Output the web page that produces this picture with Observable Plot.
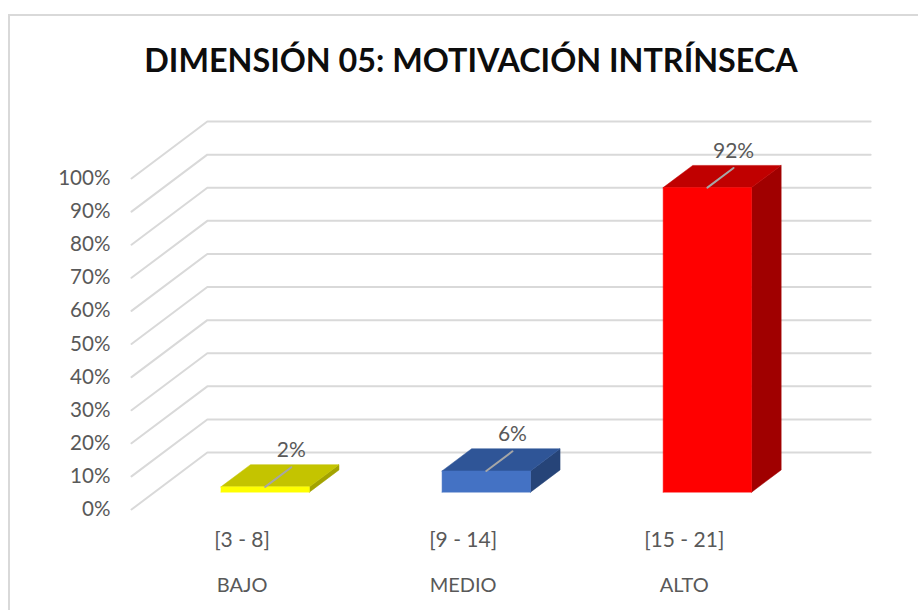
<!DOCTYPE html>
<html lang="es">
<head>
<meta charset="utf-8">
<script src="https://cdn.jsdelivr.net/npm/d3@7"></script>
<script src="https://cdn.jsdelivr.net/npm/@observablehq/plot@0.6"></script>
<style>
  html, body { margin: 0; padding: 0; background: #fff; overflow: hidden; }
  body { position: relative; width: 918px; height: 610px; }
  #frame { position: absolute; left: 8px; top: 14px; right: 0; bottom: 0; border-left: 2.5px solid #d9d9d9; border-top: 2.5px solid #d9d9d9; box-sizing: border-box; }
  #title { position: relative; height: 100px; padding-left: 24px; box-sizing: border-box; text-align: center; font: 700 32.3px Lato, sans-serif; line-height: 120px; color: #0d0d0d; white-space: nowrap; }
  #chart { position: relative; }
  svg { display: block; }
</style>
</head>
<body>
<div id="frame"></div>
<div id="title">DIMENSIÓN 05: MOTIVACIÓN INTRÍNSECA</div>
<div id="chart"></div>
<script>
const categories = ["BAJO", "MEDIO", "ALTO"];
const ranges = ["[3 - 8]", "[9 - 14]", "[15 - 21]"];
const values = [1.6, 6.4, 92];
const labels = ["2%", "6%", "92%"];
const yTicks = [0, 10, 20, 30, 40, 50, 60, 70, 80, 90, 100];
const faceColors = ["#ffff00", "#4472c4", "#ff0000"];
const topColors = ["#c4c400", "#2f5597", "#c00000"];
const sideColors = ["#a3a300", "#264478", "#a00000"];

// Oblique projection of the 3D chart box: depth 0 is the front plane, 1 the back wall.
const depthX = 0.343;   // category units per full depth
const depthY = 17.2;    // percentage points per full depth
const barWidth = 0.4;
const barFront = 0.305, barBack = 0.695, leaderEnd = 0.65;
const pt = (cat, val, depth, extra) => ({x: cat + depth * depthX, y: val + depth * depthY, ...extra});

const grid = yTicks.flatMap((v) => [
  pt(0, v, 0, {id: v}),
  pt(0, v, 1, {id: v}),
  pt(categories.length, v, 1, {id: v})
]);

const polys = categories.flatMap((c, i) => {
  const x0 = i + 0.5 - barWidth / 2, x1 = i + 0.5 + barWidth / 2, v = values[i];
  const poly = (name, color, corners) => [...corners, corners[0]].map(([a, b, d]) => pt(a, b, d, {id: c + name, color}));
  return [
    ...poly("-side", sideColors[i], [[x1, 0, barFront], [x1, 0, barBack], [x1, v, barBack], [x1, v, barFront]]),
    ...poly("-top", topColors[i], [[x0, v, barFront], [x1, v, barFront], [x1, v, barBack], [x0, v, barBack]]),
    ...poly("-face", faceColors[i], [[x0, 0, barFront], [x1, 0, barFront], [x1, v, barFront], [x0, v, barFront]])
  ];
});

const leaders = categories.flatMap((c, i) => [
  pt(i + 0.5, values[i], barFront, {id: c}),
  pt(i + 0.5, values[i], leaderEnd, {id: c})
]);
const valueLabels = categories.map((c, i) => pt(i + 0.5, values[i], leaderEnd, {text: labels[i]}));

const textColor = "#595959";
const chart = Plot.plot({
  width: 918,
  height: 510,
  marginTop: 78,
  marginBottom: 101,
  marginLeft: 131,
  marginRight: 123.7,
  style: {background: "transparent", fontFamily: "Lato, sans-serif"},
  x: {domain: [0, categories.length], axis: null},
  y: {domain: [0, 100], axis: null},
  marks: [
    Plot.line(grid, {x: "x", y: "y", z: "id", stroke: "#d9d9d9", strokeWidth: 2}),
    Plot.line(polys, {x: "x", y: "y", z: "id", fill: (d) => d.color, stroke: (d) => d.color, strokeWidth: 0.5}),
    Plot.line(leaders, {x: "x", y: "y", z: "id", stroke: "#a6a6a6", strokeWidth: 2}),
    Plot.text(valueLabels, {x: "x", y: "y", text: "text", dy: -17, fontSize: 21, fill: textColor}),
    Plot.axisY({anchor: "left", ticks: yTicks, tickFormat: (d) => d + "%", tickSize: 0, tickPadding: 21, fontSize: 20.6, color: textColor, label: null}),
    Plot.axisX({anchor: "bottom", ticks: categories.map((c, i) => i + 0.5), tickFormat: (d) => ranges[Math.floor(d)], tickSize: 0, tickPadding: 23, fontSize: 21, color: textColor, label: null}),
    Plot.axisX({anchor: "bottom", ticks: categories.map((c, i) => i + 0.5), tickFormat: (d) => categories[Math.floor(d)], tickSize: 0, tickPadding: 68, fontSize: 20, color: textColor, label: null})
  ]
});
document.getElementById("chart").appendChild(chart);
</script>
</body>
</html>
